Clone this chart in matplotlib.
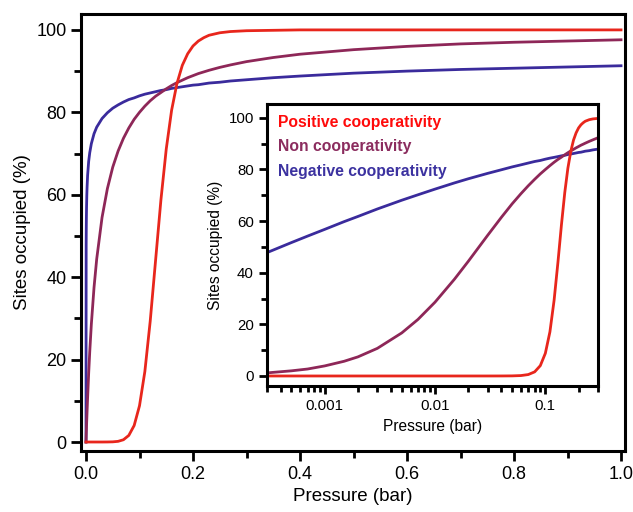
import numpy as np
import matplotlib
matplotlib.use('Agg')
import matplotlib.pyplot as plt
from matplotlib.ticker import MultipleLocator, LogLocator, NullFormatter, FixedLocator, FixedFormatter

plt.rcParams['font.family'] = ['Liberation Sans', 'DejaVu Sans']

# pressure (bar) and occupancy (%)
pressure = [0, 0.0003, 0.0005, 0.0007, 0.001, 0.0015, 0.002, 0.003, 0.005, 0.007,
            0.01, 0.015, 0.02, 0.03, 0.04, 0.05, 0.06, 0.07, 0.08, 0.09,
            0.1, 0.11, 0.12, 0.13, 0.14, 0.15, 0.16, 0.17, 0.18, 0.19, 0.2,
            0.21, 0.22, 0.23, 0.25, 0.27, 0.3, 0.35, 0.4, 0.5, 0.6, 0.7, 0.8, 0.9, 1.0]

positive = [0, 0, 0, 0, 0, 0, 0, 0, 0, 0,
            0, 0, 0, 0, 0.01, 0.04, 0.16, 0.55, 1.6, 4.0,
            8.8, 17.1, 29.3, 44.0, 58.7, 71.1, 80.5, 87.0, 91.4, 94.2, 96.1,
            97.3, 98.1, 98.7, 99.3, 99.6, 99.8, 99.9, 100, 100, 100, 100, 100, 100, 100]

non_coop = [0, 1.2, 2.0, 2.7, 3.9, 5.7, 7.4, 10.7, 16.7, 21.9,
            28.6, 37.5, 44.4, 54.5, 61.5, 66.7, 70.6, 73.7, 76.2, 78.3,
            80.0, 81.5, 82.8, 83.9, 84.8, 85.7, 86.5, 87.2, 87.8, 88.4, 88.9,
            89.4, 89.8, 90.2, 90.9, 91.5, 92.3, 93.3, 94.1, 95.2, 96.0, 96.6, 97.0, 97.3, 97.6]

negative = [0, 47.8, 51.7, 54.2, 56.8, 59.8, 61.8, 64.7, 68.1, 70.2,
            72.4, 74.8, 76.4, 78.5, 79.9, 81.0, 81.8, 82.5, 83.1, 83.5,
            84.0, 84.4, 84.7, 85.0, 85.3, 85.5, 85.8, 86.0, 86.2, 86.4, 86.6,
            86.7, 86.9, 87.1, 87.3, 87.6, 87.9, 88.4, 88.8, 89.5, 90.0, 90.4, 90.7, 91.0, 91.3]

labels = ['Positive cooperativity', 'Non cooperativity', 'Negative cooperativity']
line_colors = ['#e8261c', '#8e2758', '#3a2b9c']
text_colors = ['#ff0a0a', '#8b2c5e', '#3c32a0']

fig = plt.figure(figsize=(6.33, 5.12), dpi=100)

# main axes
ax = fig.add_axes([0.128, 0.119, 0.859, 0.854])
ax.plot(pressure, negative, color=line_colors[2], lw=2.0)
ax.plot(pressure, non_coop, color=line_colors[1], lw=2.0)
ax.plot(pressure, positive, color=line_colors[0], lw=2.0)
ax.set_xlim(-0.0093, 1.007)
ax.set_ylim(-2.2, 103.9)
ax.xaxis.set_major_locator(MultipleLocator(0.2))
ax.xaxis.set_minor_locator(MultipleLocator(0.1))
ax.yaxis.set_major_locator(MultipleLocator(20))
ax.yaxis.set_minor_locator(MultipleLocator(10))
ax.xaxis.set_major_formatter(matplotlib.ticker.FormatStrFormatter('%.1f'))
ax.tick_params(which='major', direction='out', length=7, width=2, labelsize=13)
ax.tick_params(which='minor', direction='out', length=5, width=2)
for s in ax.spines.values():
    s.set_linewidth(2.2)
ax.set_xlabel('Pressure (bar)', fontsize=13.5)
ax.set_ylabel('Sites occupied (%)', fontsize=13.5)

# inset with log pressure axis
ins = fig.add_axes([0.4218, 0.246, 0.5229, 0.551])
h_neg, = ins.plot(pressure[1:], negative[1:], color=line_colors[2], lw=2.0)
h_non, = ins.plot(pressure[1:], non_coop[1:], color=line_colors[1], lw=2.0)
h_pos, = ins.plot(pressure[1:], positive[1:], color=line_colors[0], lw=2.0)
ins.set_xscale('log')
ins.set_xlim(0.0003, 0.3)
ins.set_ylim(-3.9, 105.4)
ins.xaxis.set_major_locator(FixedLocator([0.001, 0.01, 0.1]))
ins.xaxis.set_major_formatter(FixedFormatter(['0.001', '0.01', '0.1']))
ins.xaxis.set_minor_locator(LogLocator(base=10, subs=np.arange(2, 10)))
ins.xaxis.set_minor_formatter(NullFormatter())
ins.yaxis.set_major_locator(MultipleLocator(20))
ins.yaxis.set_minor_locator(MultipleLocator(10))
ins.tick_params(which='major', direction='out', length=6, width=2, labelsize=10.8)
ins.tick_params(which='minor', direction='out', length=4, width=2)
for s in ins.spines.values():
    s.set_linewidth(2.2)
ins.set_xlabel('Pressure (bar)', fontsize=11.2)
ins.set_ylabel('Sites occupied (%)', fontsize=11.2)

leg = ins.legend([h_pos, h_non, h_neg], labels, loc='upper left', frameon=False,
                 handlelength=0, handletextpad=0, borderaxespad=0.3,
                 labelspacing=0.6, prop={'weight': 'bold', 'size': 11.3})
for h in leg.legend_handles:
    h.set_visible(False)
for t, c in zip(leg.get_texts(), text_colors):
    t.set_color(c)

fig.savefig('out.png', dpi=100)
